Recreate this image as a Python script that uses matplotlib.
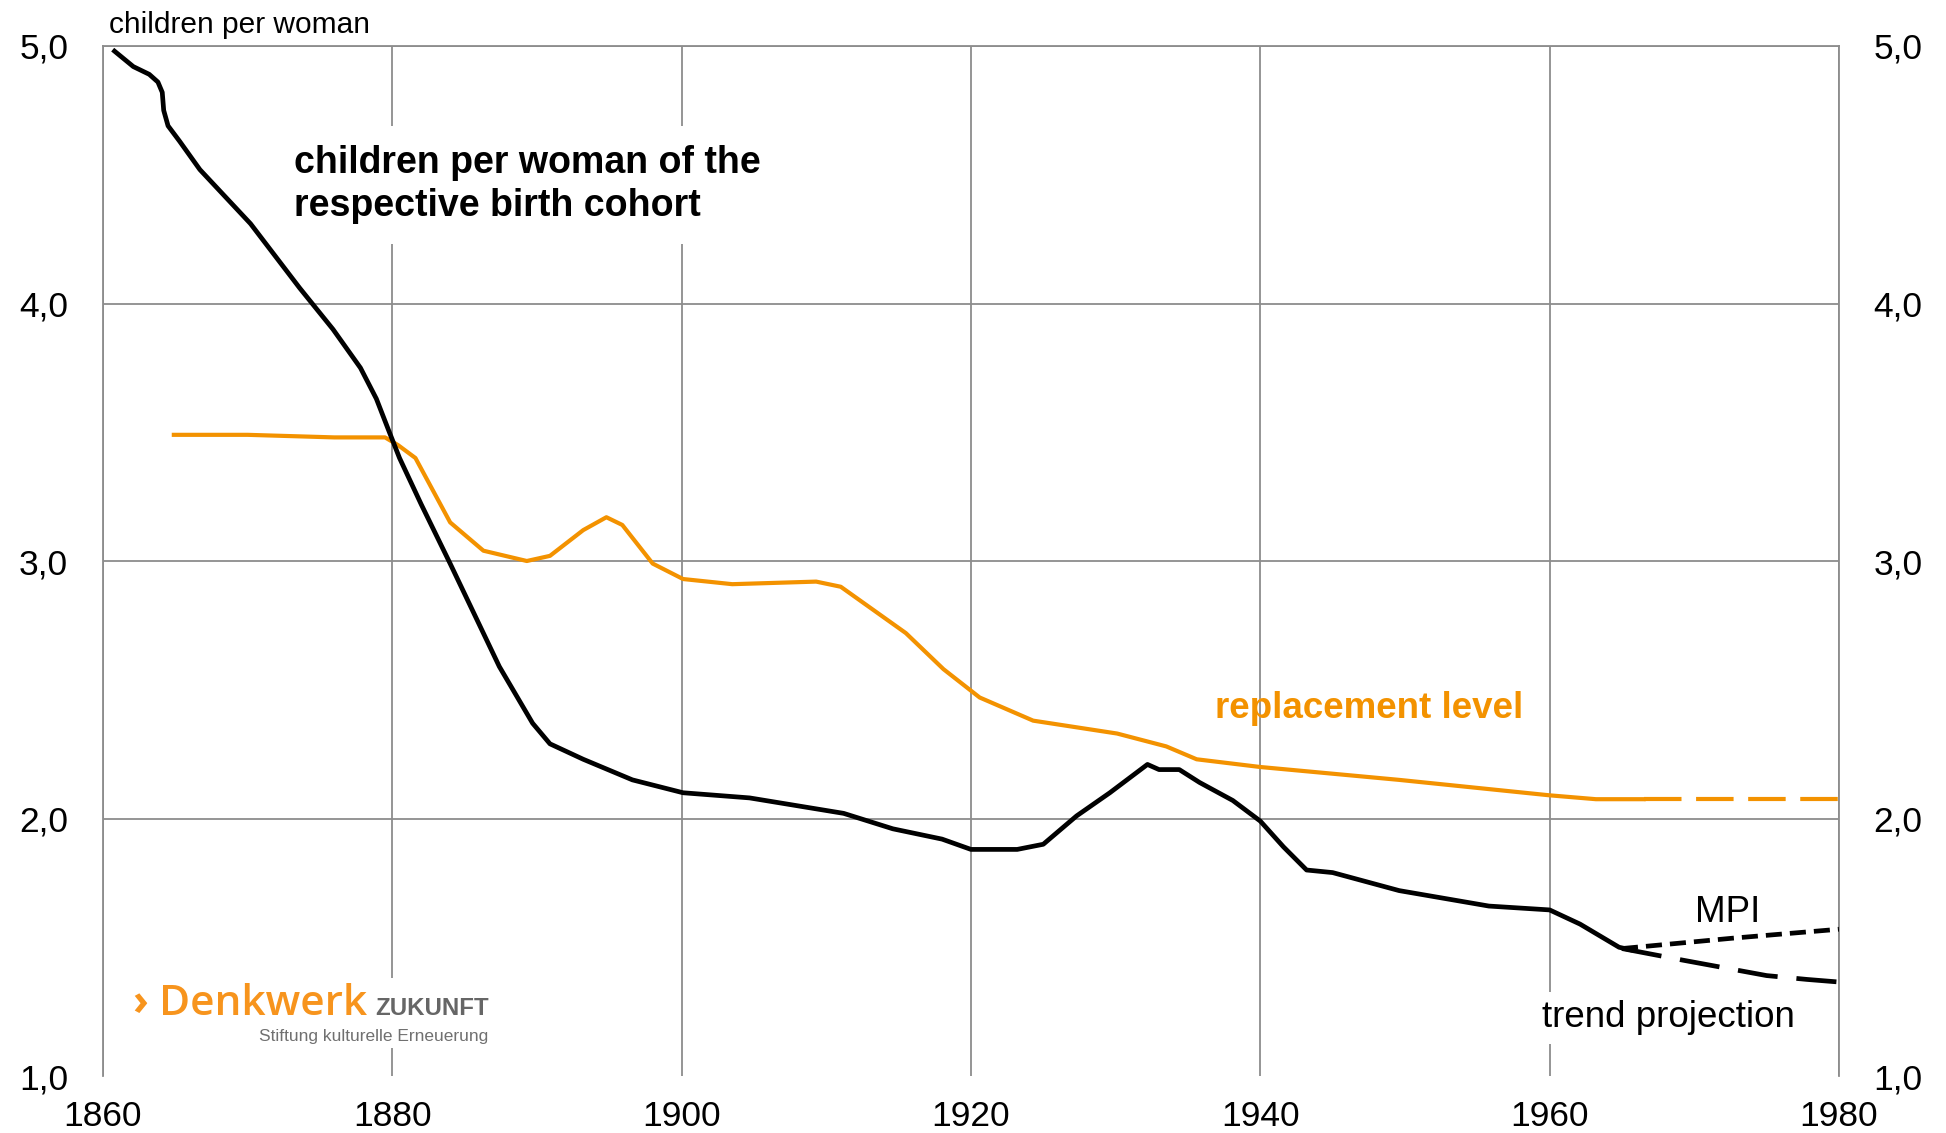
import matplotlib
matplotlib.use("Agg")
import matplotlib.pyplot as plt
from matplotlib.ticker import FuncFormatter
from matplotlib.patches import Rectangle

plt.rcParams['font.family'] = ['Liberation Sans', 'DejaVu Sans']

# ---- data ----
cohort_years = [1860.8, 1862.1, 1863.2, 1863.8, 1864.1, 1864.2, 1864.5, 1865.3, 1866.7, 1870.2,
                1873.6, 1875.9, 1877.8, 1878.9, 1879.8, 1880.5, 1882.0, 1884.0, 1887.4, 1889.7,
                1890.9, 1893.2, 1896.6, 1900.1, 1904.7, 1911.2, 1914.6, 1918.0, 1920.0, 1922.0,
                1923.2, 1925.0, 1927.3, 1929.6, 1932.2, 1933.0, 1934.4, 1935.8, 1938.1, 1940.0,
                1941.6, 1943.2, 1945.0, 1949.6, 1955.8, 1960.0, 1962.1, 1964.8, 1965.6]
cohort_tfr = [4.98, 4.92, 4.89, 4.86, 4.82, 4.75, 4.69, 4.63, 4.52, 4.31,
              4.06, 3.90, 3.75, 3.63, 3.50, 3.40, 3.22, 2.99, 2.59, 2.37,
              2.29, 2.23, 2.15, 2.10, 2.08, 2.02, 1.96, 1.92, 1.88, 1.88,
              1.88, 1.90, 2.01, 2.10, 2.21, 2.19, 2.19, 2.14, 2.07, 1.99,
              1.89, 1.80, 1.79, 1.72, 1.66, 1.645, 1.59, 1.50, 1.49]

mpi_years = [1965.0, 1972.6, 1980.0]
mpi_tfr = [1.495, 1.535, 1.57]

trend_years = [1965.0, 1969.2, 1975.0, 1977.8, 1980.0]
trend_tfr = [1.495, 1.45, 1.39, 1.375, 1.365]

repl_years = [1864.9, 1870.0, 1876.0, 1879.5, 1880.4, 1881.6, 1884.0, 1886.3, 1889.3, 1890.9,
              1893.2, 1894.8, 1895.9, 1898.0, 1900.1, 1903.5, 1909.3, 1911.0, 1915.5, 1918.1,
              1920.6, 1924.3, 1930.1, 1933.5, 1935.6, 1940.0, 1949.6, 1960.0, 1963.2, 1966.5]
repl_level = [3.49, 3.49, 3.48, 3.48, 3.45, 3.40, 3.15, 3.04, 3.00, 3.02,
              3.12, 3.17, 3.14, 2.99, 2.93, 2.91, 2.92, 2.90, 2.72, 2.58,
              2.47, 2.38, 2.33, 2.28, 2.23, 2.20, 2.15, 2.09, 2.075, 2.075]

repl_proj_years = [1966.5, 1980.0]
repl_proj_level = [2.075, 2.075]

x_ticks = [1860, 1880, 1900, 1920, 1940, 1960, 1980]
y_ticks = [1.0, 2.0, 3.0, 4.0, 5.0]

ORANGE = '#F39200'
GRID = '#8c8c8c'

fig = plt.figure(figsize=(19.46, 11.33), dpi=100)
ax = fig.add_axes([0.0529, 0.0503, 0.8921, 0.9091])
ax.set_xlim(1860, 1980)
ax.set_ylim(1.0, 5.0)

ax.set_xticks(x_ticks)
ax.set_yticks(y_ticks)
fmt = FuncFormatter(lambda v, p: f"{v:.1f}".replace('.', ','))
ax.yaxis.set_major_formatter(fmt)
ax.tick_params(axis='both', length=0, labelsize=25.5, colors='black')
ax.tick_params(axis='x', pad=17)
ax.tick_params(axis='y', pad=25)
ax.tick_params(axis='y', labelright=True, right=False)

ax.grid(True, color=GRID, linewidth=1.3)
ax.set_axisbelow(True)
ax.yaxis.get_gridlines()[0].set_visible(False)
for s in ['left', 'top', 'right']:
    ax.spines[s].set_color(GRID)
    ax.spines[s].set_linewidth(1.3)
ax.spines['bottom'].set_visible(False)

# lines
ax.plot(repl_years, repl_level, color=ORANGE, lw=3.0, zorder=3)
ax.plot(repl_proj_years, repl_proj_level, color=ORANGE, lw=3.0, dashes=(9, 3.5), zorder=3)
ax.plot(cohort_years, cohort_tfr, color='black', lw=3.4, zorder=4)
ax.plot(mpi_years, mpi_tfr, color='black', lw=3.4, dashes=(3.4, 1.7), zorder=4)
ax.plot(trend_years, trend_tfr, color='black', lw=3.4, dashes=(8.5, 4), zorder=4)

# texts
ax.text(1860.4, 5.05, "children per woman", fontsize=21.5, ha='left', va='baseline', clip_on=False)
ax.text(1873.2, 4.615, "children per woman of the\nrespective birth cohort", fontsize=27,
        fontweight='bold', ha='left', va='top', linespacing=1.25,
        bbox=dict(facecolor='white', edgecolor='none', pad=14), zorder=5)
ax.text(1936.9, 2.39, "replacement level", fontsize=26.5, fontweight='bold', color=ORANGE,
        ha='left', va='baseline', zorder=5)
ax.text(1972.3, 1.60, "MPI", fontsize=26.5, ha='center', va='baseline', zorder=5)
ax.text(1959.5, 1.19, "trend projection", fontsize=26.5, ha='left', va='baseline',
        bbox=dict(facecolor='white', edgecolor='none', pad=6), zorder=5)

# logo
ax.add_patch(Rectangle((1861.0, 1.11), 26.6, 0.27, facecolor='white', edgecolor='none', zorder=2))
ax.text(1862.0, 1.237, "›", fontsize=31, color='#F7941D', fontweight='bold',
        family=['Open Sans', 'Liberation Sans'], ha='left', va='baseline', zorder=5)
ax.text(1863.9, 1.237, "Denkwerk", fontsize=30.5, color='#F7941D', fontweight='semibold',
        family=['Open Sans', 'Liberation Sans'], ha='left', va='baseline', zorder=5)
ax.text(1886.7, 1.237, "ZUKUNFT", fontsize=17.3, color='#666666', fontweight='bold',
        ha='right', va='baseline', zorder=5)
ax.text(1886.6, 1.136, "Stiftung kulturelle Erneuerung", fontsize=12.5, color='#707070',
        ha='right', va='baseline', zorder=5)

fig.savefig("out.png", dpi=100, facecolor='white')
